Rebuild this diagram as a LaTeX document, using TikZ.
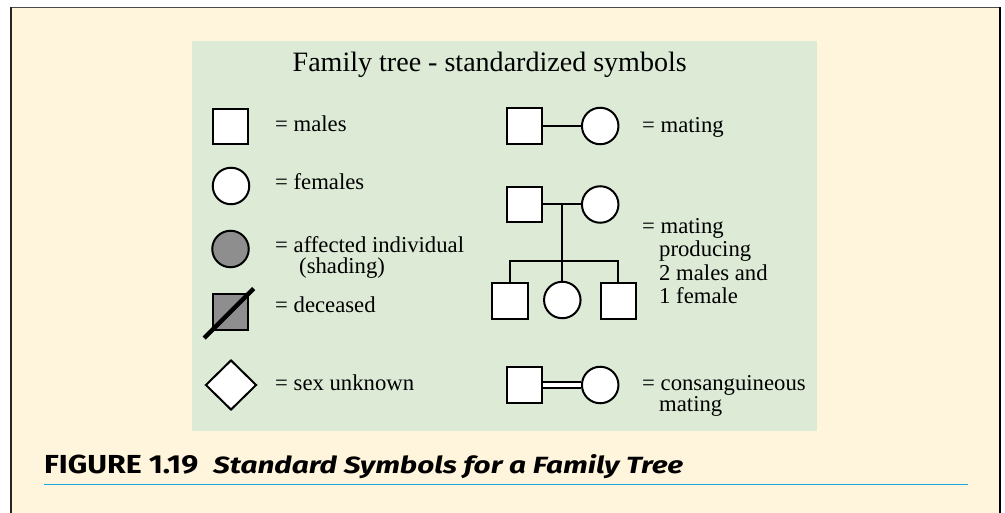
\documentclass[tikz,border=0pt]{standalone}
\usepackage{fontspec}
\setmainfont{Liberation Serif}
\newfontfamily\capfont{Fira Sans}
\usetikzlibrary{shapes.geometric,calc}
\definecolor{cream}{HTML}{FFF5DD}
\definecolor{panel}{HTML}{DCEAD6}
\definecolor{shade}{HTML}{8E8E8E}
\definecolor{rulecol}{HTML}{1CA5DF}
\definecolor{frametop}{HTML}{4A4A4A}
\pgfdeclarelayer{back}
\pgfdeclarelayer{links}
\pgfsetlayers{back,links,main}
\tikzset{
  sym/.style={draw=black, line width=2pt, fill=white, inner sep=0pt},
  male/.style={sym, rectangle, minimum size=35.5pt},
  female/.style={sym, circle, minimum size=36.5pt},
  unknown/.style={sym, diamond, minimum width=51pt, minimum height=50pt},
  lbl/.style={anchor=base west, inner sep=0pt, font=\fontsize{22.7}{27}\selectfont},
  link/.style={line width=2pt},
  captxt/.style={anchor=base west, inner sep=0pt},
}
\begin{document}
\begin{tikzpicture}[x=1pt,y=-1pt]
\useasboundingbox (0,0) rectangle (1005,513);
\begin{pgfonlayer}{back}
\fill[white] (0,0) rectangle (1005,513);
\fill[cream] (11,7.5) rectangle (1000,513);
\draw[frametop, line width=1.6pt] (10.2,7.5) -- (1000.8,7.5);
\draw[black!85, line width=1.6pt] (11,7.5) -- (11,513);
\draw[black, line width=2pt] (1000,7.5) -- (1000,513);
\fill[panel] (192,41) rectangle (817,430.5);
\draw[rulecol, line width=1.6pt] (44,484.5) -- (968,484.5);
\end{pgfonlayer}

\node[captxt] (title) at (292.5,71.7) {\resizebox{394pt}{!}{\fontsize{28}{32}\selectfont Family tree - standardized symbols}};

% left column
\node[male] (m1) at (230.5,126.5) {};
\node[female] (f1) at (231,186) {};
\node[female, fill=shade] (a1) at (230.5,249) {};
\node[male, fill=shade] (d1) at (230.5,311.8) {};
\draw[line width=4.5pt] ($(d1.south west)!-0.2!(d1.north east)$) -- ($(d1.south west)!1.12!(d1.north east)$);
\node[unknown] (u1) at (231,385) {};

\node[lbl] (tm1) at (275,131.5) {= males};
\node[lbl] (tf1) at (275,190) {= females};
\node[lbl] (ta1) at (275,253) {= affected individual};
\node[lbl] (ta2) at (299,274) {(shading)};
\node[lbl] (td1) at (275,313) {= deceased};
\node[lbl] (tu1) at (275,390) {= sex unknown};

% right column
\node[male] (mm) at (524.7,126) {};
\node[female] (mf) at (600.2,126) {};
\node[male] (pm) at (524.7,204.5) {};
\node[female] (pf) at (600.2,204.5) {};
\coordinate (pmid) at (562.3,204.5);
\coordinate (sib) at (562.3,261);
\node[male] (c1) at (510,301) {};
\node[female] (c2) at (562.3,300) {};
\node[male] (c3) at (618.3,301) {};
\node[male] (cm) at (524.7,385) {};
\node[female] (cf) at (600.2,385) {};

\begin{pgfonlayer}{links}
\draw[link] (mm) -- (mf);
\draw[link] (pm) -- (pf);
\draw[link] (pmid) -- (c2);
\draw[link] (c1.north) |- (sib) -| (c3.north);
\draw[link, double=white, double distance=4pt] (cm) -- (cf);
\end{pgfonlayer}

\node[lbl] (tmm) at (642,133) {= mating};
\node[lbl] (tp1) at (642,233.3) {= mating};
\node[lbl] (tp2) at (659,256.7) {producing};
\node[lbl] (tp3) at (659,280.5) {2 males and};
\node[lbl] (tp4) at (659,304) {1 female};
\node[lbl] (tc1) at (642,390) {= consanguineous};
\node[lbl] (tc2) at (659,411.5) {mating};

% caption
\node[captxt] (cap1) at (44,473.3) {\resizebox{154pt}{18.5pt}{\capfont\bfseries FIGURE 1.19}};
\node[captxt] (cap2) at (213,473.3) {\resizebox{470pt}{19pt}{\capfont\bfseries\itshape Standard Symbols for a Family Tree}};
\end{tikzpicture}
\end{document}
